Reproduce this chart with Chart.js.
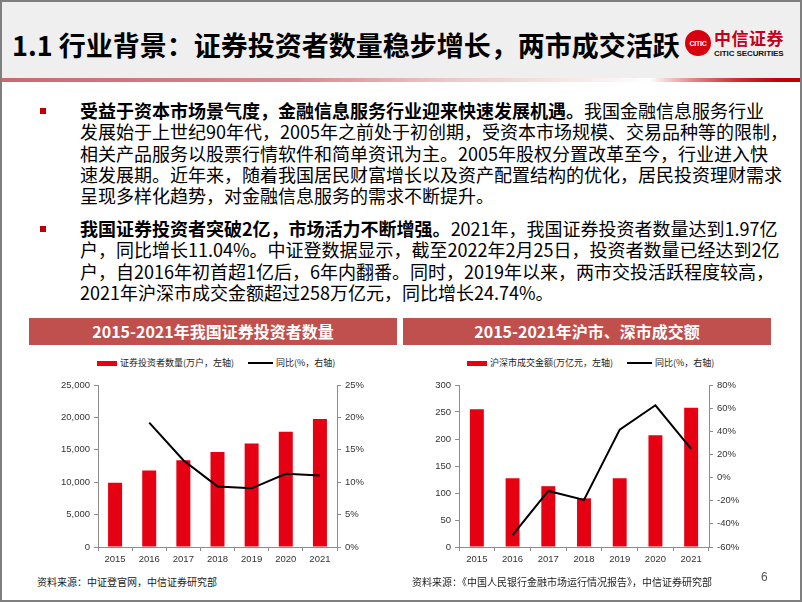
<!DOCTYPE html>
<html><head><meta charset="utf-8">
<script src="https://cdn.jsdelivr.net/npm/chart.js@4.4.1/dist/chart.umd.min.js"></script>
<style>
html,body{margin:0;padding:0;background:#fff;}
#slide{position:relative;width:802px;height:602px;overflow:hidden;background:#fff;font-family:"Noto Sans CJK SC",sans-serif;color:#000;}
#frame{position:absolute;left:0;top:0;width:798px;height:598px;border:2px solid #7f7f7f;pointer-events:none;z-index:20;}
#hdr{position:absolute;left:0;top:0;width:802px;height:79px;background:#efefef;}
#rule{position:absolute;left:0;top:78px;width:802px;height:4px;background:linear-gradient(to right,#c86a70 0%,#d38a8f 37%,#ebc8c9 56%,#fbf1f1 76%,#ffffff 81%,#f6d0d2 83%,#e07a80 87%,#d02a35 92%,#c0000b 97%,#c00000 100%);}
#title{position:absolute;left:12px;top:25px;font-size:27px;font-weight:700;line-height:40px;white-space:nowrap;letter-spacing:0px;}
#logo .circ{position:absolute;left:685px;top:30px;width:26px;height:26px;border-radius:50%;background:#d6000f;color:#fff;font:700 7px "Liberation Sans Narrow","Liberation Sans",sans-serif;display:flex;align-items:center;justify-content:center;letter-spacing:-0.3px;}
#logo .cn{position:absolute;left:714px;top:27px;font-size:17px;font-weight:700;color:#c4001a;line-height:22px;letter-spacing:0.5px;white-space:nowrap;}
#logo .en{position:absolute;left:714px;top:49px;font:700 8px "Liberation Sans Narrow","Liberation Sans",sans-serif;color:#111;white-space:nowrap;letter-spacing:-0.1px;}
.bul{position:absolute;left:40px;width:6px;height:6px;background:#c00000;}
.para{position:absolute;left:80px;font-size:18px;line-height:21.3px;white-space:nowrap;}
.para b{font-weight:700;}
.cbox{position:absolute;top:318px;height:27px;background:#c0504d;color:#fff;font-size:16px;font-weight:700;line-height:27px;text-align:center;}
.leg{position:absolute;top:356px;font-size:9px;line-height:14px;color:#222;white-space:nowrap;}
.sw{position:absolute;}
.cv{position:absolute;}
.src{position:absolute;top:575px;font-size:10px;line-height:14px;color:#222;white-space:nowrap;}
#pg{position:absolute;left:761px;top:570px;font:12px "Liberation Sans",Arial,sans-serif;color:#555;}
</style></head>
<body>
<div id="slide">
  <div id="hdr"></div>
  <div id="rule"></div>
  <div id="title">1.1 行业背景：证券投资者数量稳步增长，两市成交活跃</div>
  <div id="logo"><div class="circ">CITIC</div><div class="cn">中信证券</div><div class="en">CITIC SECURITIES</div></div>

  <div class="bul" style="top:108px"></div>
  <div class="para" style="top:100px"><b>受益于资本市场景气度，金融信息服务行业迎来快速发展机遇。</b>我国金融信息服务行业<br>发展始于上世纪90年代，2005年之前处于初创期，受资本市场规模、交易品种等的限制，<br>相关产品服务以股票行情软件和简单资讯为主。2005年股权分置改革至今，行业进入快<br>速发展期。近年来，随着我国居民财富增长以及资产配置结构的优化，居民投资理财需求<br>呈现多样化趋势，对金融信息服务的需求不断提升。</div>
  <div class="bul" style="top:226px"></div>
  <div class="para" style="top:218px"><b>我国证券投资者突破2亿，市场活力不断增强。</b>2021年，我国证券投资者数量达到1.97亿<br>户，同比增长11.04%。中证登数据显示，截至2022年2月25日，投资者数量已经达到2亿<br>户，自2016年初首超1亿后，6年内翻番。同时，2019年以来，两市交投活跃程度较高，<br>2021年沪深市成交金额超过258万亿元，同比增长24.74%。</div>

  <div class="cbox" style="left:29px;width:368px">2015-2021年我国证券投资者数量</div>
  <div class="cbox" style="left:403px;width:368px">2015-2021年沪市、深市成交额</div>

  <div class="sw" style="left:97px;top:361px;width:20px;height:5px;background:#e50012"></div>
  <div class="leg" style="left:120px">证券投资者数量(万户，左轴)</div>
  <div class="sw" style="left:248px;top:362px;width:25px;height:2px;background:#000"></div>
  <div class="leg" style="left:276px">同比(%，右轴)</div>

  <div class="sw" style="left:467px;top:361px;width:20px;height:5px;background:#e50012"></div>
  <div class="leg" style="left:490px">沪深市成交金额(万亿元，左轴)</div>
  <div class="sw" style="left:627px;top:362px;width:25px;height:2px;background:#000"></div>
  <div class="leg" style="left:655px">同比(%，右轴)</div>

  <canvas id="c1" class="cv" style="left:20px;top:372px" width="380" height="200"></canvas>
  <canvas id="c2" class="cv" style="left:400px;top:372px" width="400" height="200"></canvas>

  <div class="src" style="left:37px">资料来源：中证登官网，中信证券研究部</div>
  <div class="src" style="left:412px">资料来源：《中国人民银行金融市场运行情况报告》，中信证券研究部</div>
  <div id="pg">6</div>
  <div id="frame"></div>
</div>
<script>
const years = ['2015','2016','2017','2018','2019','2020','2021'];
const investors = [9910, 11811, 13398, 14650, 15975, 17777, 19740];
const investorsYoY = [null, 19.2, 13.4, 9.35, 9.05, 11.3, 11.04];
const turnover = [255.1, 127.4, 112.6, 90.1, 127.4, 206.8, 258.0];
const turnoverYoY = [null, -49.8, -11.6, -19.3, 41.4, 62.5, 24.74];

const leftTicks1 = [0, 25000, 5000];
const rightTicks1 = [0, 25, 5];
const leftTicks2 = [0, 300, 50];
const rightTicks2 = [-60, 80, 20];

Chart.defaults.font.family = '"Liberation Sans", Arial, sans-serif';
Chart.defaults.font.size = 9.5;
Chart.defaults.color = '#333';

const BAR = '#e50012';
const AX = '#8c8c8c';

function yAxis(pos, t, fmt, w){
  return {
    position: pos, min: t[0], max: t[1],
    ticks: {stepSize: t[2], callback: fmt, padding: 4, color: '#333'},
    grid: {drawOnChartArea: false, drawTicks: true, tickLength: 4, color: AX},
    border: {display: true, color: AX},
    afterFit(s){ s.width = w; }
  };
}
function xAxis(h){
  return {
    grid: {drawOnChartArea: false, drawTicks: true, tickLength: 4, color: AX, offset: true},
    border: {display: true, color: AX},
    ticks: {padding: 3, color: '#333', maxRotation: 0, autoSkip: false},
    afterFit(s){ s.height = h; }
  };
}
function makeChart(id, bars, line, lt, rt, lfmt, rfmt, lw, rw, bp){
  new Chart(document.getElementById(id), {
    data: {
      labels: years,
      datasets: [
        {type: 'line', data: line, yAxisID: 'y1', borderColor: '#000', borderWidth: 2, pointRadius: 0, tension: 0, order: 0, spanGaps: false},
        {type: 'bar', data: bars, yAxisID: 'y', backgroundColor: BAR, borderWidth: 0, barPercentage: bp, categoryPercentage: 1, order: 1}
      ]
    },
    options: {
      responsive: false, animation: false, devicePixelRatio: 1,
      layout: {padding: {top: 13, left: 0, right: 0, bottom: 0}},
      plugins: {legend: {display: false}, tooltip: {enabled: false}},
      scales: {
        x: xAxis(25),
        y: yAxis('left', lt, lfmt, lw),
        y1: yAxis('right', rt, rfmt, rw)
      }
    }
  });
}
const comma = v => v.toLocaleString('en-US');
const pct = v => v + '%';
makeChart('c1', investors, investorsYoY, leftTicks1, rightTicks1, comma, pct, 78, 63, 0.41);
makeChart('c2', turnover, turnoverYoY, leftTicks2, rightTicks2, v => v, pct, 59, 91, 0.39);
</script>
</body></html>
